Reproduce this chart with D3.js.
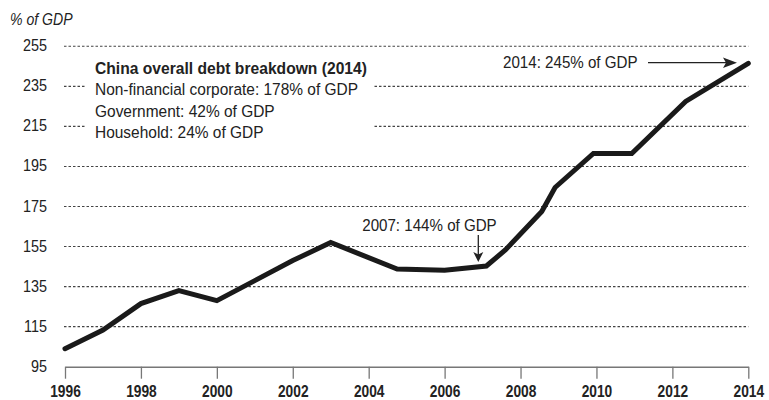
<!DOCTYPE html>
<html>
<head>
<meta charset="utf-8">
<script src="https://cdn.jsdelivr.net/npm/d3@7"></script>
<style>
  html, body { margin: 0; padding: 0; background: #fff; }
  svg { display: block; font-family: 'Liberation Sans', Arial, Helvetica, sans-serif; }
</style>
</head>
<body>
<svg id="chart" width="769" height="400"></svg>
<script>
// ---- data ----
const years  = [1996, 1997, 1998, 1999, 2000, 2001, 2002, 2003, 2004.75, 2006, 2007.1, 2007.6, 2008.56, 2008.91, 2009.92, 2010.93, 2012.35, 2014];
const values = [104, 113.3, 126.5, 133, 128, 138, 148, 157, 143.8, 143.2, 145.3, 153.3, 172.5, 184.5, 201.5, 201.5, 227.5, 246.5];
const xTicks = [1996, 1998, 2000, 2002, 2004, 2006, 2008, 2010, 2012, 2014];
const yTicks = [95, 115, 135, 155, 175, 195, 215, 235, 255];
const unitLabel = "% of GDP";
const boxTitle = "China overall debt breakdown (2014)";
const boxLines = ["Non-financial corporate: 178% of GDP", "Government: 42% of GDP", "Household: 24% of GDP"];
const note2014 = "2014: 245% of GDP";
const note2007 = "2007: 144% of GDP";

const svg = d3.select("#chart");
const x = d3.scaleLinear().domain([1996, 2014]).range([65, 748.3]);
const y = d3.scaleLinear().domain([95, 255]).range([366.7, 46.3]);

const ink = "#222";
const SX = 0.9; // condensed look

// text helper: horizontally condensed real text
function label(parent, px, py, str, o = {}) {
  return parent.append("text")
    .attr("transform", `translate(${px},${py}) scale(${o.sx || SX},1)`)
    .attr("text-anchor", o.anchor || "start")
    .attr("font-size", o.size || 17)
    .attr("font-weight", o.weight || "normal")
    .attr("font-style", o.style || "normal")
    .attr("fill", ink)
    .text(str);
}

// gridlines
svg.append("g").selectAll("line")
  .data(yTicks.filter(d => d > 95))
  .join("line")
  .attr("x1", 64).attr("x2", 748.3)
  .attr("y1", d => y(d)).attr("y2", d => y(d))
  .attr("stroke", "#444").attr("stroke-width", 1.1)
  .attr("stroke-dasharray", "2.5,2");

// y labels
const yl = svg.append("g");
yTicks.forEach(d => label(yl, 47, y(d) + 5, d, { anchor: "end", size: 16, sx: 0.9 }));

// unit label
label(svg, 10, 25, unitLabel, { size: 16, style: "italic", sx: 0.88 });

// x axis
const xAxis = svg.append("g").attr("transform", `translate(0,${y(95)})`)
  .call(d3.axisBottom(x).tickValues(xTicks).tickFormat(d3.format("d")).tickSize(12).tickSizeOuter(0).tickPadding(6));
xAxis.select(".domain").attr("stroke", "#777").attr("stroke-width", 1.5);
xAxis.selectAll(".tick line").attr("stroke", "#777").attr("stroke-width", 1.3);
xAxis.selectAll(".tick text")
  .attr("font-family", "'Liberation Sans', Arial, sans-serif")
  .attr("font-size", 16).attr("font-weight", "bold").attr("fill", ink)
  .attr("dy", null).attr("y", 0)
  .attr("transform", "translate(0,30.5) scale(0.86,1)");

// annotation box (white background breaking gridlines)
svg.append("rect").attr("x", 85).attr("y", 55).attr("width", 289).attr("height", 92).attr("fill", "#fff");
label(svg, 95, 74, boxTitle, { weight: "bold", sx: 0.92 });
boxLines.forEach((t, i) => label(svg, 95, 95 + i * 21.5, t, { sx: 0.91 }));

// data line
svg.append("path")
  .datum(years.map((yr, i) => [yr, values[i]]))
  .attr("fill", "none").attr("stroke", "#1a1a1a").attr("stroke-width", 5)
  .attr("stroke-linejoin", "miter").attr("stroke-linecap", "round")
  .attr("d", d3.line().x(d => x(d[0])).y(d => y(d[1])));

// 2014 note + arrow
label(svg, 637.5, 68.3, note2014, { anchor: "end", sx: 0.89 });
svg.append("line").attr("x1", 648).attr("x2", 728).attr("y1", 62.7).attr("y2", 62.7)
  .attr("stroke", ink).attr("stroke-width", 1.3);
svg.append("path").attr("d", "M737,62.7 L723,57.5 L726,62.7 L723,67.9 Z").attr("fill", ink);

// 2007 note + arrow
label(svg, 496.7, 230.5, note2007, { anchor: "end", sx: 0.89 });
svg.append("line").attr("x1", 478.3).attr("x2", 478.3).attr("y1", 235).attr("y2", 255)
  .attr("stroke", ink).attr("stroke-width", 1.3);
svg.append("path").attr("d", "M478.3,262 L473.3,252 L478.3,254.5 L483.3,252 Z").attr("fill", ink);
</script>
</body>
</html>
